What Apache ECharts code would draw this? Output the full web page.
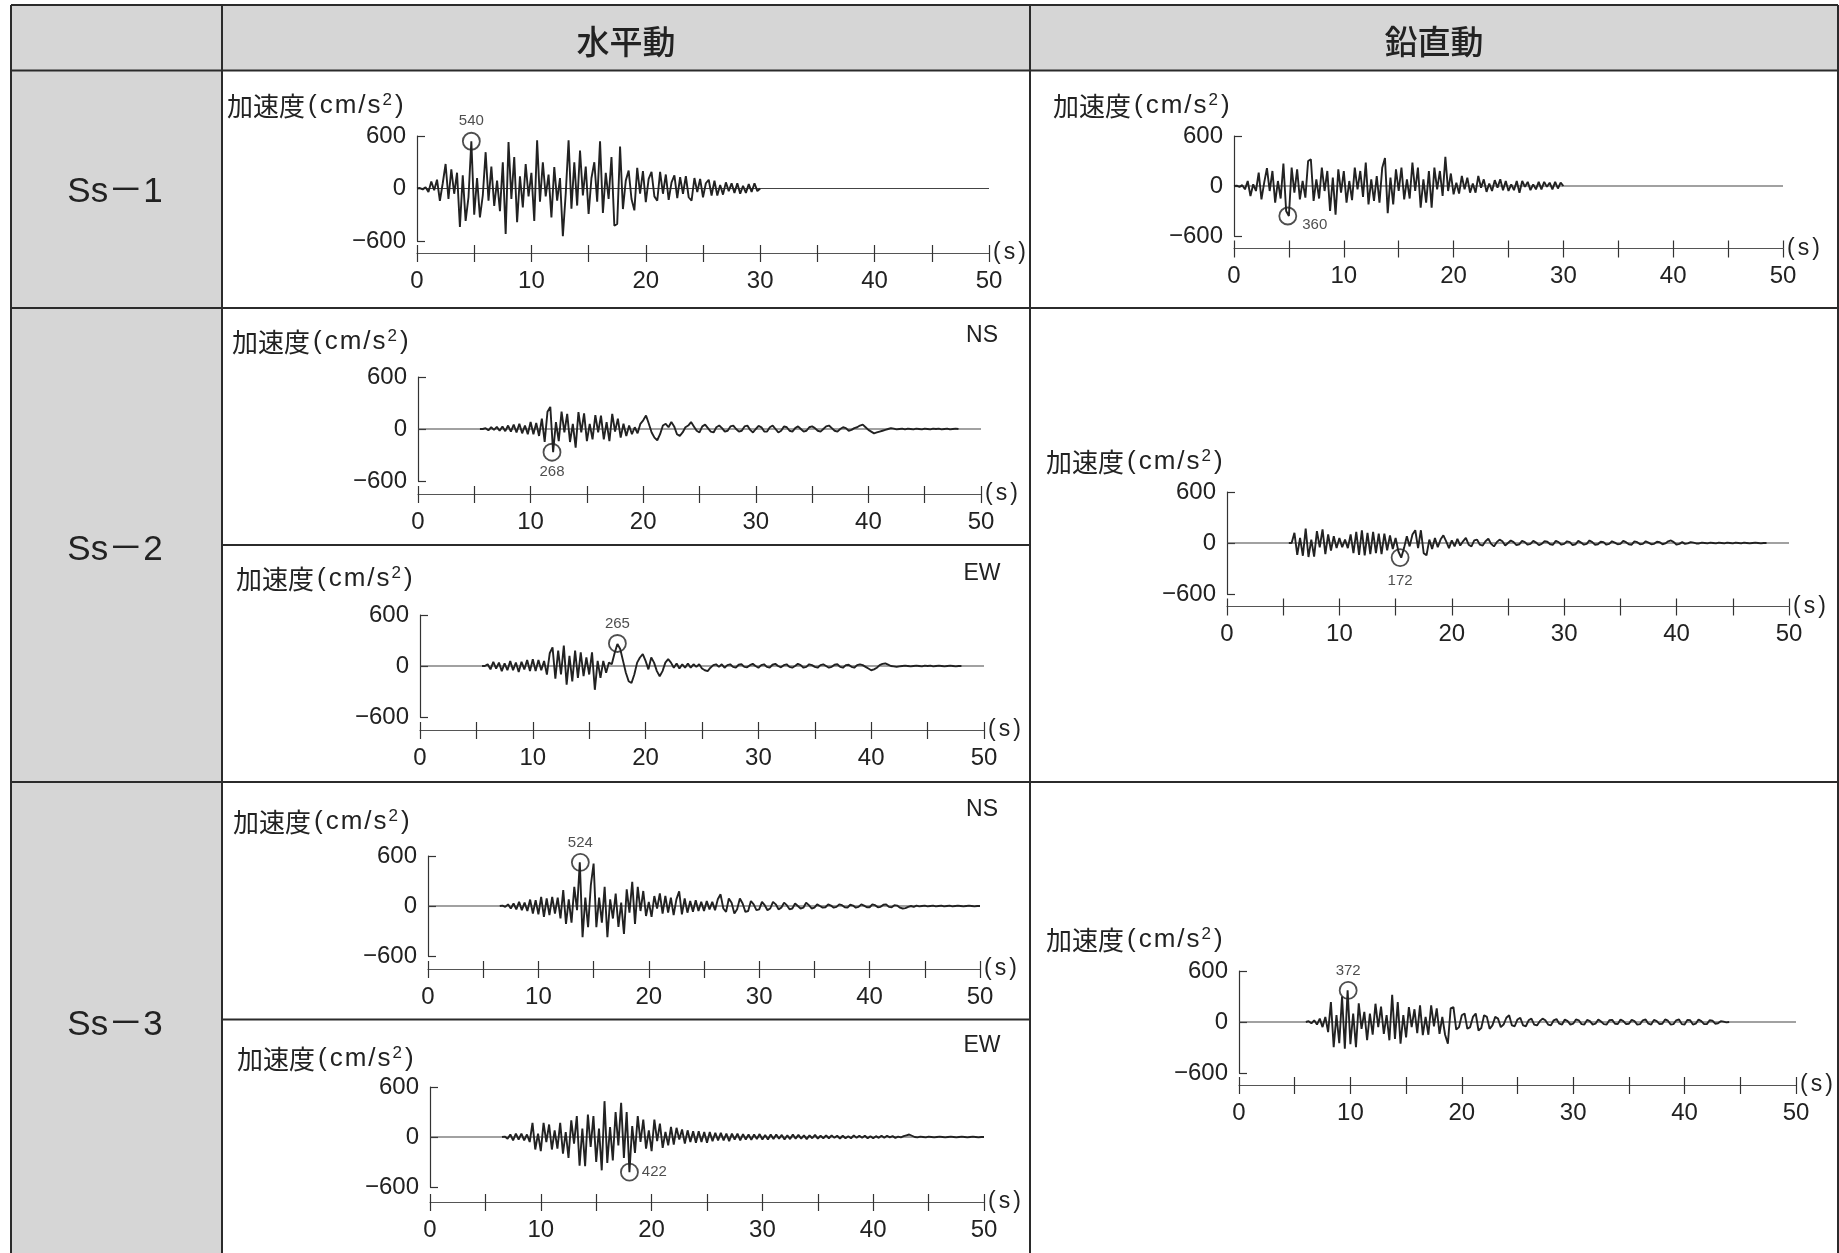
<!DOCTYPE html>
<html><head><meta charset="utf-8">
<script src="https://cdn.jsdelivr.net/npm/echarts/dist/echarts.min.js"></script>
<style>html,body{margin:0;padding:0;background:#fff}#c{width:1839px;height:1253px}</style>
</head><body><div id="c"></div>
<script>
// ---------------- DATA ----------------
const DT = 0.25; // sampling step (s)
const xTickValues = [0, 10, 20, 30, 40, 50];
const yTickValues = [-600, 0, 600];
const rowNames = ['Ss－1', 'Ss－2', 'Ss－3'];
const colNames = ['水平動', '鉛直動'];
const compNames = ['NS', 'EW', 'NS', 'EW'];

const ss1H_t0 = 0;
const ss1H = [0,5,-10,15, -40,80,-20,100, -140,60,280,-120, 220,-60,180,-440,
 150,-370,-100,540, -300,120,-330,-80, 415,-140,250,-200, 90,-260,300,-520,
 530,-120,360,-385, 140,-215,280,-90, 180,-370,550,-150, 300,-90,160,-330,
 245,-140,120,-545, -60,550,-230,300, -195,435,-80,250, -290,120,300,-150,
 540,-280,180,-120, 360,-425,-405,480, -235,90,205,-120, -250,235,-60,200,
 -155,110,190,-90, -140,190,-60,160, -130,70,150,-110, 130,-60,140,-100,
 -140,120,-40,110, -100,60,100,-80, 90,-80,40,-70, 70,-30,60,-50,
 60,-60,30,-50, 50,-40,60,-30, 0];

const ss1V_t0 = 0;
const ss1V = [0,5,-10,10, -40,60,-120,20, -60,160,-160,40, 215,-60,180,-200,
 60,-150,270,-300, -360,220,-80,200, -160,60,-140,300, 320,-180,80,-150,
 220,-60,180,-300, 100,-345,200,-80, 180,-200,60,-170, 220,-40,180,-130,
 280,-220,80,-180, 120,-200,220,335, -325,100,-220,200, -60,220,-160,80,
 -150,280,-60,220, -260,80,-200,180, -260,220,-40,180, -120,350,-60,150,
 -100,40,-90,120, -40,100,-80,30, -80,120,-20,80, -70,30,-60,70,
 -20,80,-50,60, -60,20,-50,60, -80,60,-10,50, -50,20,-40,50,
 -40,50,-10,40, -40,50,-30,40, 0];

const ss2NS_t0 = 5.5;
const ss2NS = [0,0, 10,-15,20,-10, 25,-20,30,-25, 40,-30,50,-40, 60,-50,40,-60,
 80,-60,70,-80, 120,-150,200,255, -268,80,-140,200, -40,175,-150,60,
 -215,195,-40,180, -140,60,-120,160, -40,155,-120,80, -140,175,-30,120,
 -100,60,-80,40, -60,20,-50,60, 100,155,60,-40, -100,-130,-60,40,
 60,20,80,30, -60,-80,-40,20, 40,80,30,-20, -40,30,50,10,
 -30,-40,20,40, 10,-30,-20,30, 40,0,-30,-20, 30,40,-10,-40,
 0,35,20,-30, -30,20,40,0, -40,-20,30,20, -20,-30,10,30,
 0,-30,-20,20, 30,10,-20,-30, 0,30,40,10, -20,-30,0,20,
 10,-20,-10,10, 20,40,50,20, -10,-30,-50,-40, -30,-20,-10,0,
 10,5,-5,0, 5,-5,5,0, -5,5,0,-5, 5,0,-5,5, 0,5,-5,0, 5,-5,0,5, 0];

const ss2EW_t0 = 5.5;
const ss2EW = [0,0, 20,-40,50,-30, 40,-60,30,-50, 60,-50,40,-70, 50,-40,70,-60,
 80,-60,70,-50, 60,-100,150,220, -150,180,-100,240, -220,120,-180,180,
 -140,160,-120,100, -100,160,-280,60, -140,60,-80,40, 20,150,260,200,
 60,-80,-180,-200, -100,40,100,140, 60,-40,100,40, -60,-120,-60,40,
 80,40,-20,30, -30,20,-20,30, -20,20,-10,20, -30,-50,-60,-20,
 10,20,-10,20, -20,10,20,-10, -20,15,20,-10, -15,10,25,0,
 -20,10,20,-10, -20,15,25,0, -15,10,20,-10, -20,0,25,10,
 -20,-10,20,10, -10,-20,10,20, 0,-20,-10,15, 20,-10,-20,10,
 15,-10,-20,10, 20,10,-10,-30, -50,-40,-20,10, 25,30,15,0,
 -5,-10,-5,0, 5,0,-5,0, 5,0,-5,5, 0,5,-5,0, 5,0,-5,0, 5,0,-5,0, 0];

const ss2V_t0 = 5.5;
const ss2V = [0,0, 120,-140,60,-150, 170,-165,40,-160, 140,-50,160,-130,
 100,-90,80,-60, 60,-50,40,-60, 100,-120,130,-140, 150,-145,120,-130,
 130,-120,110,-130, 110,-85,90,-70, 60,-100,-172,-60, 80,-40,100,150,
 -60,150,-120,-145, 40,-70,60,-50, 40,90,20,-60, 30,-40,50,-30,
 20,60,-20,-40, 30,40,-20,-30, 20,50,-10,-40, 10,40,20,-30,
 0,30,10,-25, -15,25,10,-20, -10,25,5,-25, -10,20,15,-15,
 -20,25,10,-20, -10,20,10,-25, -15,25,5,-20, -10,30,10,-20,
 -15,15,10,-20, -10,20,5,-15, -10,25,10,-15, -20,20,10,-15,
 -10,20,5,-15, -10,15,10,-15, -5,20,30,10, -20,-10,10,-10,
 -5,10,5,-5, -5,5,0,-5, 5,0,-5,5, 0,-5,5,0, -5,5,0,-5, 5,0,-5,0, 5,0,-5,0, 0];

const ss3NS_t0 = 6.5;
const ss3NS = [0,5, -10,20,-30,30, -40,50,-50,40, -60,77,-90,70, -100,110,-130,90,
 -110,110,-90,100, -150,190,-215,80, -200,230,-50,524, -375,100,-255,250,
 510,-255,100,-200, 230,-375,80,-150, 150,-250,40,-335, 200,-80,290,-215,
 230,-60,180,-120, 50,-130,120,-30, 150,-90,120,-80, 100,-110,80,175,
 -100,90,-80,60, -70,70,-60,50, -60,60,-40,50, -50,80,140,-30,
 -70,90,40,-90, -40,90,30,-70, -60,60,20,-50, -40,50,10,-50,
 -30,50,20,-40, -20,40,10,-40, -30,30,0,-30, -20,40,10,-30,
 -20,20,0,-20, -15,20,5,-20, -10,20,10,-15, -20,15,5,-20,
 -10,20,5,-15, -15,20,10,-15, -10,15,20,-10, -15,10,5,-20,
 -30,-25,-10,0, -10,5,-5,0, 5,-5,0,5, -5,0,5,-5, 0,5,-5,0,
 5,0,-5,0, 5,0,-5,0, 0];

const ss3EW_t0 = 6.5;
const ss3EW = [0,5, -20,30,-40,40, -30,40,-40,30, -60,170,-150,40, -170,170,-60,150,
 -150,80,-140,170, -200,60,-250,200, -80,250,-345,100, -350,270,-120,250,
 -300,100,-400,430, -310,120,-280,300, -100,410,-250,300, -422,130,-190,250,
 -60,210,-140,80, -170,210,-50,160, -130,60,-100,120, -90,110,-30,90,
 -80,80,-60,70, -70,70,-60,60, -70,60,-50,50, -40,50,-40,40,
 -50,40,-30,40, -40,35,-30,30, -35,30,-25,35, -30,25,-30,30,
 -25,30,-20,25, -30,20,-25,30, -20,25,-20,20, -25,20,-15,25,
 -20,15,-15,20, -15,20,-10,15, -20,15,-15,10, -15,20,-10,15,
 -10,15,-15,10, -15,10,-10,15, -10,15,-5,10, -10,5,-5,10,
 20,30,15,0, -5,5,0,-5, 5,0,-5,0, 5,0,-5,0, 5,0,-5,0,
 5,0,-5,0, 5,0,-5,0, 0];

const ss3V_t0 = 6.0;
const ss3V = [0,10,-15,20, -30,40,-60,60, -120,235,-295,80, -250,300,-315,372,
 -260,100,-295,220, -80,120,-215,100, -150,215,-60,180, -140,80,-215,320,
 -200,235,-255,80, -180,175,-60,150, -130,195,-155,60, -150,195,-50,160,
 -140,60,-150,-255, 160,175,-90,-60, 80,100,-80,-60, 60,100,-100,-70,
 80,60,-80,-40, 60,40,-60,-30, 50,80,-40,-50, 30,50,-40,-50,
 20,40,-30,-40, 10,40,20,-30, -40,20,35,-20, -30,30,10,-30,
 -20,30,20,-25, -30,25,10,-30, -20,30,5,-25, -30,20,25,-20,
 -25,30,10,-25, -20,25,10,-30, -25,20,30,-20, -30,25,10,-25,
 -20,30,15,-30, -25,20,30,-25, -30,25,20,-30, -20,30,10,-25,
 -25,20,15,-20, -15,10,5,-5, 0];

// peak annotations (time s, signed value cm/s2)
const peakTimes  = [4.75, 4.9, 11.9, 17.5, 15.4, 13.8, 18.0, 9.8];
const peakValues = [540, -360, -268, 265, -172, 524, -422, 372];

// ---------------- PANELS ----------------
const waves = [
  {vals: ss1H, t0: ss1H_t0}, {vals: ss1V, t0: ss1V_t0},
  {vals: ss2NS, t0: ss2NS_t0}, {vals: ss2EW, t0: ss2EW_t0}, {vals: ss2V, t0: ss2V_t0},
  {vals: ss3NS, t0: ss3NS_t0}, {vals: ss3EW, t0: ss3EW_t0}, {vals: ss3V, t0: ss3V_t0}
];
// layout (pixels) & label placement – style only
const layout = [
  {left:417, top:136, width:572, height:105, off:12, lab:'top'},
  {left:1234, top:136, width:549, height:100, off:12.5, lab:'right2'},
  {left:418, top:377, width:563, height:104, off:13, lab:'bottom'},
  {left:420, top:615, width:564, height:102, off:13, lab:'top'},
  {left:1227, top:492, width:562, height:102, off:12.5, lab:'bottom2'},
  {left:428, top:856, width:552, height:100, off:13, lab:'top'},
  {left:430, top:1087, width:554, height:100, off:15, lab:'right'},
  {left:1239, top:971, width:557, height:102, off:12, lab:'top'}
];
const titlePos = [[227,106],[1053,106],[232,342],[236,579],[1046,462],[233,822],[237,1059],[1046,940]];
const compPos = [[982,336],[982,574],[982,810],[982,1046]];

const LAT = "'Liberation Sans', Arial, sans-serif";
const CJK = "'Noto Sans CJK JP', 'Noto Sans CJK SC', sans-serif";
const INK = '#222';

function toXY(vals, t0) { return vals.map((v, i) => [+(t0 + i * DT).toFixed(2), v]); }

const grids = [], xAxes = [], yAxes = [], series = [];
layout.forEach((L, i) => {
  grids.push({left: L.left, top: L.top, width: L.width, height: L.height, containLabel: false, outerBoundsMode: 'none'});
  xAxes.push({
    type: 'value', gridIndex: i, min: 0, max: 50, interval: 5, position: 'bottom', offset: L.off,
    axisLine: {show: true, onZero: false, lineStyle: {color: '#555', width: 1.2}},
    axisTick: {show: true, inside: true, length: 8, lineStyle: {color: '#333', width: 1.2}},
    axisLabel: {show: true, margin: 16, fontSize: 24, color: INK, fontFamily: LAT,
      formatter: v => xTickValues.includes(v) ? String(v) : ''},
    splitLine: {show: false},
    name: '{p|(}{s|s}{p|)}', nameLocation: 'end', nameGap: 4,
    nameTextStyle: {fontSize: 23, color: INK, fontFamily: LAT, verticalAlign: 'middle',
      rich: {p: {fontSize: 23, fontFamily: LAT, color: INK},
             s: {fontSize: 23, fontFamily: LAT, color: INK, padding: [0, 3, 0, 3]}}}
  });
  xAxes.push({
    type: 'value', gridIndex: i, min: 0, max: 50, interval: 5, position: 'bottom', offset: L.off,
    axisLine: {show: false, onZero: false},
    axisTick: {show: true, inside: false, length: 9, lineStyle: {color: '#333', width: 1.2}},
    axisLabel: {show: false}, splitLine: {show: false}
  });
  yAxes.push({
    type: 'value', gridIndex: i, min: yTickValues[0], max: yTickValues[2], interval: 600,
    axisLine: {show: true, onZero: false, lineStyle: {color: '#333', width: 1.2}},
    axisTick: {show: true, inside: true, length: 8, lineStyle: {color: '#333', width: 1.2}},
    axisLabel: {margin: 11, fontSize: 24, color: INK, fontFamily: LAT,
      formatter: v => v < 0 ? '−' + (-v) : String(v)},
    splitLine: {show: false}
  });
  series.push({type: 'line', xAxisIndex: 2 * i, yAxisIndex: i, data: [[0, 0], [50, 0]],
    showSymbol: false, silent: true, z: 1, lineStyle: {color: '#444', width: 1.2}});
  series.push({type: 'line', xAxisIndex: 2 * i, yAxisIndex: i, data: toXY(waves[i].vals, waves[i].t0),
    showSymbol: false, silent: true, z: 2, lineStyle: {color: '#222', width: 1.9}});
  let pos = L.lab, offset = [0, 0], dist = 3;
  if (pos === 'right2') { pos = 'right'; offset = [2, 9]; }
  if (pos === 'bottom2') { pos = 'bottom'; dist = 6; }
  series.push({type: 'scatter', xAxisIndex: 2 * i, yAxisIndex: i,
    data: [[peakTimes[i], peakValues[i]]], symbol: 'circle', symbolSize: 17, z: 5, silent: true,
    itemStyle: {color: 'rgba(0,0,0,0)', borderColor: INK, borderWidth: 1.8},
    label: {show: true, position: pos, offset: offset, distance: dist, fontSize: 15, color: INK, fontFamily: LAT,
      formatter: p => String(Math.abs(p.value[1]))}});
});

// ---------------- TABLE (graphic) ----------------
const G = [];
const GRAY = '#d6d6d6', LINE = '#2b2b2b';
G.push({type: 'rect', z: -10, shape: {x: 11, y: 5, width: 1827, height: 66}, style: {fill: GRAY}});
G.push({type: 'rect', z: -10, shape: {x: 11, y: 70, width: 211, height: 1190}, style: {fill: GRAY}});
function line(x1, y1, x2, y2, w) {
  G.push({type: 'line', z: 50, shape: {x1, y1, x2, y2}, style: {stroke: LINE, lineWidth: w || 2}});
}
line(11, 5, 1838, 5); line(11, 70.5, 1838, 70.5); line(11, 308, 1838, 308); line(11, 782, 1838, 782);
line(222, 545, 1030, 545); line(222, 1019.5, 1030, 1019.5);
line(11, 5, 11, 1260); line(222, 5, 222, 1260); line(1030, 5, 1030, 1260); line(1838, 5, 1838, 1260);

const colX = [626, 1434];
colNames.forEach((t, k) => G.push({type: 'text', z: 60, style: {text: t, x: colX[k], y: 41, fill: INK,
  font: `500 33px ${CJK}`, textAlign: 'center', textVerticalAlign: 'middle'}}));
const rowY = [192, 550, 1025];
rowNames.forEach((t, k) => G.push({type: 'text', z: 60, style: {text: t, x: 115, y: rowY[k], fill: INK,
  font: `35px ${LAT}, ${CJK}`, textAlign: 'center', textVerticalAlign: 'middle'}}));
// y-axis title: 加速度(cm/s²)
const TFS = 26;
const titleRich = {
  k: {fontSize: TFS, fontFamily: CJK, fill: INK},
  l: {fontSize: TFS, fontFamily: LAT, fill: INK, padding: [0, 1, 0, 1]},
  p: {fontSize: TFS, fontFamily: LAT, fill: INK, padding: [0, 2, 0, 3]},
  s: {fontSize: 17, fontFamily: LAT, fill: INK, padding: [0, 2, 12, 1]}
};
const titleText = '{k|加速度}{p|(}{l|c}{l|m}{l|/}{l|s}{s|2}{l|)}';
titlePos.forEach(p => G.push({type: 'text', z: 60, style: {
  text: titleText, rich: titleRich, x: p[0], y: p[1], textAlign: 'left', textVerticalAlign: 'middle'}}));
compNames.forEach((t, k) => G.push({type: 'text', z: 60, style: {text: t, x: compPos[k][0], y: compPos[k][1],
  fill: INK, font: `23px ${LAT}`, textAlign: 'center', textVerticalAlign: 'middle'}}));

const chart = echarts.init(document.getElementById('c'), null, {renderer: 'canvas'});
chart.setOption({
  animation: false, backgroundColor: '#fff',
  grid: grids, xAxis: xAxes, yAxis: yAxes, series: series, graphic: {elements: G}
});
</script></body></html>
